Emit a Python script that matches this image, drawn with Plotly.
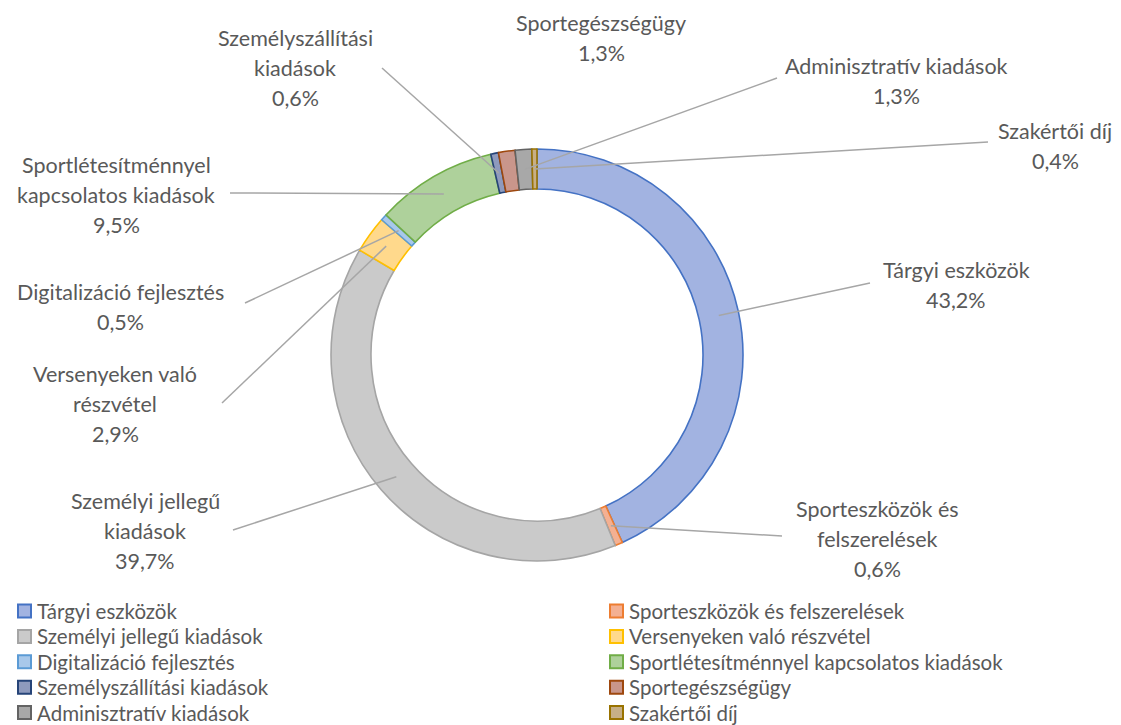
import math
import plotly.graph_objects as go

# ---- data ----
categories = [
    "Tárgyi eszközök",
    "Sporteszközök és felszerelések",
    "Személyi jellegű kiadások",
    "Versenyeken való részvétel",
    "Digitalizáció fejlesztés",
    "Sportlétesítménnyel kapcsolatos kiadások",
    "Személyszállítási kiadások",
    "Sportegészségügy",
    "Adminisztratív kiadások",
    "Szakértői díj",
]
values = [43.2, 0.6, 39.7, 2.9, 0.5, 9.5, 0.6, 1.3, 1.3, 0.4]
label_lines = [
    ["Tárgyi eszközök"],
    ["Sporteszközök és", "felszerelések"],
    ["Személyi jellegű", "kiadások"],
    ["Versenyeken való", "részvétel"],
    ["Digitalizáció fejlesztés"],
    ["Sportlétesítménnyel", "kapcsolatos kiadások"],
    ["Személyszállítási", "kiadások"],
    ["Sportegészségügy"],
    ["Adminisztratív kiadások"],
    ["Szakértői díj"],
]

# ---- styles ----
fill_colors = ["#A2B3E1", "#F4B092", "#CACACA", "#FFD98C", "#A8C8EA",
               "#AED19B", "#8E9ABD", "#C9968B", "#A8A8A8", "#C7AF86"]
line_colors = ["#4472C4", "#ED7D31", "#A5A5A5", "#FFC000", "#5B9BD5",
               "#70AD47", "#264478", "#9E480E", "#636363", "#997300"]

W, H = 1121, 725
CX, CY, R_OUT, R_IN = 537, 355, 206, 166
TEXT_COLOR = "#595959"
FONT = "Lato"
LABEL_SIZE = 21.5
LEGEND_SIZE = 20.5

# label placement (pixel): center x, first line y, leader start (or None)
label_layout = [
    (956, 270, (870, 283)),
    (877, 509, (782, 536)),
    (145, 501, (233, 530)),
    (115, 374, (222, 403)),
    (120, 292, (245, 303)),
    (116, 165, (230, 193)),
    (295, 38, (382, 68)),
    (601, 23, None),
    (896, 66, (777, 78)),
    (1055, 131, (988, 142)),
]
LINE_STEP = 30

# legend grid (pixel)
LEG_COL_X = [18, 610]
LEG_ROW_Y0 = 611
LEG_ROW_STEP = 25.4
LEG_SQ = 13


def px(x):
    return x / W


def py(y):
    return 1 - y / H


fig = go.Figure(go.Pie(
    labels=categories,
    values=values,
    sort=False,
    direction="clockwise",
    rotation=0,
    hole=R_IN / R_OUT,
    textinfo="none",
    hoverinfo="label+percent",
    showlegend=False,
    marker=dict(colors=fill_colors, line=dict(color=line_colors, width=1.6)),
    domain=dict(x=[px(CX - R_OUT), px(CX + R_OUT)],
                y=[py(CY + R_OUT), py(CY - R_OUT)]),
))

annotations = []
shapes = []
total = sum(values)
cum = 0.0
r_mid = (R_OUT + R_IN) / 2
for i, v in enumerate(values):
    mid = (cum + v / 2) / total * 2 * math.pi
    cum += v
    ex = CX + r_mid * math.sin(mid)
    ey = CY - r_mid * math.cos(mid)
    lx, ly, start = label_layout[i]
    pct = f"{v:.1f}%".replace(".", ",")
    lines = label_lines[i] + [pct]
    for k, t in enumerate(lines):
        annotations.append(dict(
            x=px(lx), y=py(ly + k * LINE_STEP), xref="paper", yref="paper",
            text=t, showarrow=False, xanchor="center", yanchor="middle",
            font=dict(family=FONT, size=LABEL_SIZE, color=TEXT_COLOR)))
    if start is not None:
        shapes.append(dict(type="line", xref="paper", yref="paper",
                           x0=px(start[0]), y0=py(start[1]), x1=px(ex), y1=py(ey),
                           line=dict(color="#A6A6A6", width=1.5)))

# legend: two columns, filled row by row
for i, name in enumerate(categories):
    col, row = i % 2, i // 2
    x0 = LEG_COL_X[col]
    yc = LEG_ROW_Y0 + row * LEG_ROW_STEP
    shapes.append(dict(type="rect", xref="paper", yref="paper",
                       x0=px(x0), x1=px(x0 + LEG_SQ),
                       y0=py(yc + LEG_SQ / 2), y1=py(yc - LEG_SQ / 2),
                       fillcolor=fill_colors[i],
                       line=dict(color=line_colors[i], width=2)))
    annotations.append(dict(
        x=px(x0 + LEG_SQ + 4), y=py(yc), xref="paper", yref="paper",
        text=name, showarrow=False, xanchor="left", yanchor="middle",
        font=dict(family=FONT, size=LEGEND_SIZE, color=TEXT_COLOR)))

fig.update_layout(
    width=W, height=H,
    margin=dict(l=0, r=0, t=0, b=0),
    paper_bgcolor="white", plot_bgcolor="white",
    annotations=annotations, shapes=shapes,
    showlegend=False,
)

fig.write_html("out.html",
               config={"displayModeBar": False},
               post_script="document.body.style.margin='0';"
                           "document.body.style.overflow='hidden';")
